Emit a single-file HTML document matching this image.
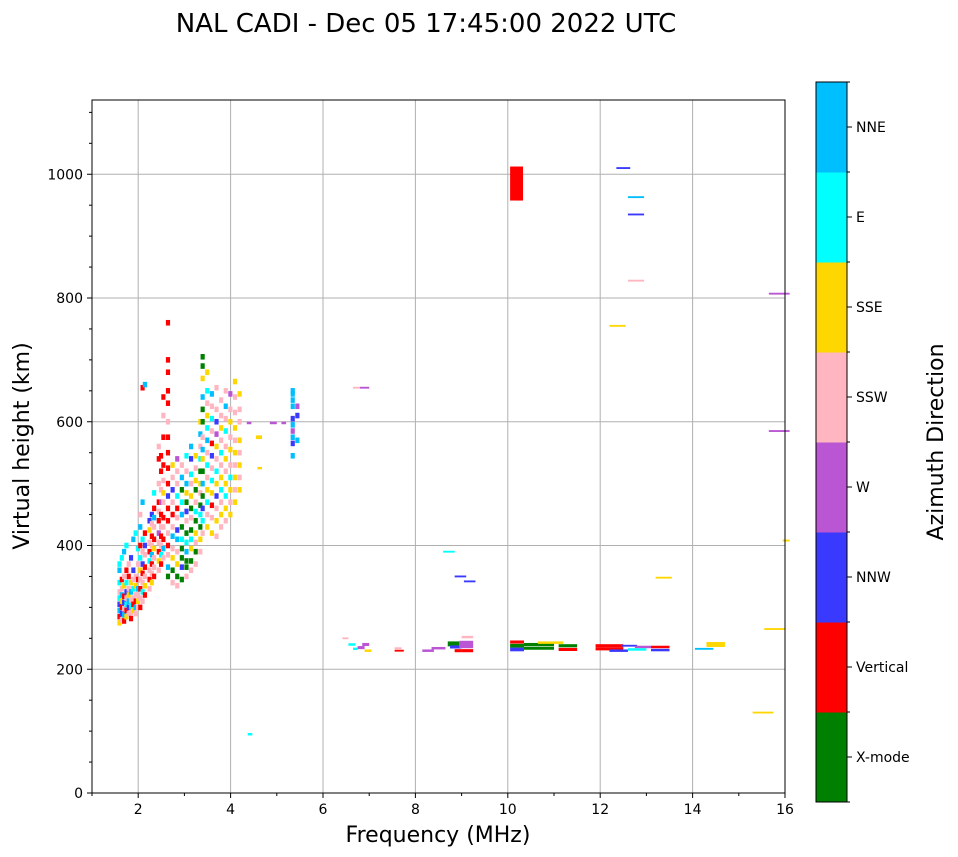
<!DOCTYPE html>
<html><head><meta charset="utf-8">
<style>
html,body{margin:0;padding:0;background:#fff;}
svg{display:block;font-family:"DejaVu Sans","Liberation Sans",sans-serif;}
</style></head>
<body>
<svg id="chart" width="958" height="857" viewBox="0 0 958 857" xmlns="http://www.w3.org/2000/svg">
<text x="426" y="32" font-size="26" text-anchor="middle">NAL CADI - Dec 05 17:45:00 2022 UTC</text>
<g id="grid"></g>
<g id="marks"></g>
<rect x="92" y="100" width="693" height="693" fill="none" stroke="#000" stroke-width="1"/>
<g id="axes"></g>
<text x="438" y="842" font-size="22" text-anchor="middle">Frequency (MHz)</text>
<text transform="translate(29,446) rotate(-90)" font-size="22" text-anchor="middle">Virtual height (km)</text>
<g id="cbar"></g>
<text transform="translate(943,442) rotate(-90)" font-size="22" text-anchor="middle">Azimuth Direction</text>
</svg>
<script>
const dirNames = ["X-mode","Vertical","NNW","W","SSW","SSE","E","NNE"];
const dirColors = ["#008000","#ff0000","#3a3aff","#ba55d3","#ffb6c1","#ffd700","#00ffff","#00bfff"];
const xTicks = [2,4,6,8,10,12,14,16];
const yTicks = [0,200,400,600,800,1000];

// cluster columns: frequency, heights, directions
const cFreq = [1.55,1.6,1.65,1.7,1.75,1.8,1.85,1.9,1.95,2.0,2.05,2.1,2.2,2.25,2.3,2.4,2.45,2.5,2.6,2.7,2.8,2.9,3.0,3.1,3.2,3.3,3.35,3.45,3.55,3.65,3.75,3.85,3.95,4.05,4.15,5.3,5.4];
const cHeights = [
[275,285,295,305,315,325,340,360,370],
[280,290,300,310,320,330,345,380],
[278,288,298,308,318,335,350,390],
[285,295,305,315,325,340,360,400],
[290,300,310,320,330,350,370],
[282,292,302,312,325,340,380],
[295,305,315,330,345,360,410],
[290,300,310,320,335,350,420],
[300,310,320,330,345,370,395],
[300,315,330,345,360,380,400,430,450],
[310,325,340,355,370,390,410,470,655],
[320,335,350,365,385,400,420,660],
[330,345,360,375,390,405,425,440],
[340,355,370,385,400,415,435,450],
[350,365,380,395,410,430,445,460,485],
[360,375,390,405,420,440,455,470,500,540,560],
[370,385,400,415,430,450,470,490,520,545],
[380,395,410,430,445,470,485,505,530,575,610,640],
[350,365,385,400,420,440,460,480,500,525,550,575,600,630,650,680,700,760],
[340,360,380,395,415,430,450,470,490,510,530],
[335,350,370,390,410,425,445,460,480,500,520,540],
[345,365,380,395,410,430,450,470,490,510,530],
[350,365,375,390,405,420,440,455,470,485,500,520,545],
[360,375,395,410,425,445,460,480,500,515,540,560],
[370,390,405,420,440,455,470,490,505,525,545],
[390,410,430,450,465,485,500,520,540,560,580,600],
[420,440,460,480,500,520,540,555,575,600,620,640,670,690,705],
[430,450,470,490,510,530,550,570,590,610,630,650,680],
[420,445,465,485,505,525,545,565,585,605,625,645],
[415,440,460,480,500,520,540,560,580,600,620,655],
[430,450,470,490,510,530,550,570,590,610,635],
[440,460,480,500,520,540,560,585,605,625,650],
[450,470,490,510,530,555,575,600,620,645],
[470,490,510,530,550,570,590,615,640,665],
[490,510,530,550,570,600,620,645],
[545,565,575,585,595,605,625,635,645,650],
[570,610,625]
];
const cDirs = [
[5,1,7,2,6,4,6,7,6],
[4,2,1,5,7,4,1,6],
[1,7,4,2,1,5,4,7],
[5,1,6,4,2,6,1,6],
[4,2,7,5,4,1,4],
[1,4,6,4,7,5,2],
[5,1,4,6,4,2,7],
[4,7,1,4,5,4,6],
[4,5,4,7,1,4,6],
[1,4,1,4,5,6,1,7,4],
[4,6,4,1,2,4,6,7,1],
[1,5,4,1,4,2,1,7],
[4,1,4,6,1,4,5,2],
[5,4,1,7,4,1,4,2],
[1,4,4,5,1,4,7,1,6],
[4,5,1,4,3,1,4,1,4,1,4],
[1,6,4,1,4,1,3,4,1,1],
[4,7,1,4,1,4,5,4,1,1,4,1],
[0,7,4,1,4,1,1,2,1,1,1,1,4,1,1,1,1,1],
[4,0,5,4,7,4,1,4,2,4,5],
[4,0,5,4,7,2,4,1,6,4,4,3],
[0,2,0,0,6,0,7,6,0,7,4],
[4,0,0,7,6,0,4,2,0,5,7,4,6],
[4,0,5,6,0,4,0,5,4,6,2,7],
[4,0,4,5,0,6,4,0,5,4,5],
[4,5,0,6,0,4,5,0,6,4,7,5],
[4,6,2,0,7,0,5,7,4,0,0,7,5,0,0],
[5,4,6,5,4,6,4,7,6,5,4,6,5],
[5,4,1,5,6,4,2,1,4,6,4,7],
[4,5,4,2,5,6,4,5,3,2,4,4],
[4,5,4,6,5,4,6,4,5,4,4],
[4,5,6,5,4,5,4,6,4,7,4],
[5,4,5,6,4,5,4,5,4,3],
[5,4,5,4,5,4,5,4,4,5],
[5,4,5,4,5,4,4,5],
[7,2,7,3,7,2,7,7,7,7],
[7,2,3]
];

// isolated bars: start freq, end freq, height, thickness (km), direction
const bStart = [4.37,4.35,4.55,4.58,4.85,5.1,6.42,6.55,6.65,6.75,6.85,6.9,6.65,6.8,8.6,8.85,9.05,7.55,7.55,8.15,8.35,8.7,8.85,8.75,8.95,9.0,9.0,10.05,10.05,10.05,10.35,10.35,10.65,11.1,11.1,11.9,11.9,12.2,12.45,12.75,12.6,13.1,13.1,14.05,14.3,14.3,10.05,12.35,12.6,12.6,12.6,12.2,13.2,15.3,15.55,15.65,15.65,15.95];
const bEnd   = [4.47,4.45,4.68,4.68,5.0,5.2,6.55,6.7,6.75,6.9,7.0,7.05,6.8,7.0,8.85,9.1,9.3,7.75,7.7,8.4,8.65,8.95,9.0,9.0,9.25,9.25,9.25,10.35,10.35,10.35,11.0,11.0,11.2,11.5,11.5,12.5,12.5,12.6,12.8,13.1,13.0,13.5,13.5,14.45,14.7,14.7,10.33,12.65,12.95,12.95,12.95,12.55,13.55,15.75,16.0,16.1,16.1,16.1];
const bHeight = [95,598,575,525,598,598,250,240,233,235,240,230,655,655,390,350,342,230,234,230,234,241,230,236,240,230,252,244,238,232,240,234,243,238,232,238,233,230,238,236,232,236,231,233,242,238,985,1010,963,935,828,755,348,130,265,807,585,408];
const bThick = [4,4,6,4,4,4,3,4,4,5,5,4,3,3,3,3,3,3,3,4,4,8,5,5,12,5,4,5,6,6,5,5,4,5,5,5,5,4,3,4,4,4,4,3,4,4,55,3,3,3,3,3,3,3,3,3,3,3];
const bDir = [6,3,5,5,3,3,4,6,6,3,3,5,4,3,6,2,2,1,4,3,3,0,1,2,3,1,4,1,0,2,0,0,5,0,1,1,1,2,2,3,6,1,2,7,5,5,1,2,7,2,4,5,5,5,5,3,3,5];

const NS="http://www.w3.org/2000/svg";
const X0=92,X1=785,Y0=793,Y1=100, FMIN=1,FMAX=16,HMIN=0,HMAX=1120;
const xs=f=>X0+(f-FMIN)/(FMAX-FMIN)*(X1-X0);
const ys=h=>Y0-(h-HMIN)/(HMAX-HMIN)*(Y0-Y1);
function mk(tag,attrs,parent){const e=document.createElementNS(NS,tag);for(const k in attrs)e.setAttribute(k,attrs[k]);parent.appendChild(e);return e;}
const grid=document.getElementById('grid'),axes=document.getElementById('axes'),marks=document.getElementById('marks'),cbar=document.getElementById('cbar');

xTicks.forEach(t=>{
  const x=xs(t);
  const g=mk('line',{x1:x,x2:x,y1:Y1,y2:Y0,stroke:'#b0b0b0','stroke-width':1},grid);
  
  
  mk('line',{x1:x,x2:x,y1:Y0,y2:Y0+5,stroke:'#000'},axes);
  const tx=mk('text',{x:x,y:Y0+21,'font-size':14,'text-anchor':'middle'},axes);
  tx.textContent=t;
  
  
});
for(let m=1;m<=15;m+=2){const x=xs(m);mk('line',{x1:x,x2:x,y1:Y0,y2:Y0+3,stroke:'#000'},axes);}
yTicks.forEach(t=>{
  const y=ys(t);
  const g=mk('line',{x1:X0,x2:X1,y1:y,y2:y,stroke:'#b0b0b0','stroke-width':1},grid);
  
  
  mk('line',{x1:X0-5,x2:X0,y1:y,y2:y,stroke:'#000'},axes);
  const tx=mk('text',{x:X0-9,y:y+5,'font-size':14,'text-anchor':'end'},axes);
  tx.textContent=t;
  
  
});
for(let m=50;m<=1100;m+=50){if(m%200===0)continue;const y=ys(m);mk('line',{x1:X0-3,x2:X0,y1:y,y2:y,stroke:'#000'},axes);}

const cw=0.09, ch=9;
cFreq.forEach((f,i)=>{
  cHeights[i].forEach((h,j)=>{
    const r=mk('rect',{x:xs(f),y:ys(h+ch/2),width:xs(f+cw)-xs(f),height:ys(h-ch/2)-ys(h+ch/2),fill:dirColors[cDirs[i][j]]},marks);
    
    
  });
});
bStart.forEach((s,i)=>{
  const r=mk('rect',{x:xs(s),y:ys(bHeight[i]+bThick[i]/2),width:xs(bEnd[i])-xs(s),height:ys(bHeight[i]-bThick[i]/2)-ys(bHeight[i]+bThick[i]/2),fill:dirColors[bDir[i]]},marks);
  
  
});

// colorbar
const CB_X=816,CB_W=31,CB_TOP=82,CB_BOT=802,seg=(CB_BOT-CB_TOP)/dirNames.length;
dirNames.forEach((n,i)=>{
  const y0=CB_BOT-(i+1)*seg;
  const r=mk('rect',{x:CB_X,y:y0,width:CB_W,height:seg+0.5,fill:dirColors[i]},cbar);
  
  
  const yc=y0+seg/2;
  mk('line',{x1:CB_X+CB_W,x2:CB_X+CB_W+5,y1:yc,y2:yc,stroke:'#000'},cbar);
  const tx=mk('text',{x:CB_X+CB_W+9,y:yc+5,'font-size':14},cbar);
  tx.textContent=n;
  
  
});
for(let i=0;i<=dirNames.length;i++){const y=CB_BOT-i*seg;mk('line',{x1:CB_X+CB_W,x2:CB_X+CB_W+3,y1:y,y2:y,stroke:'#000'},cbar);}
mk('rect',{x:CB_X,y:CB_TOP,width:CB_W,height:CB_BOT-CB_TOP,fill:'none',stroke:'#000'},cbar);
</script>
</body></html>
